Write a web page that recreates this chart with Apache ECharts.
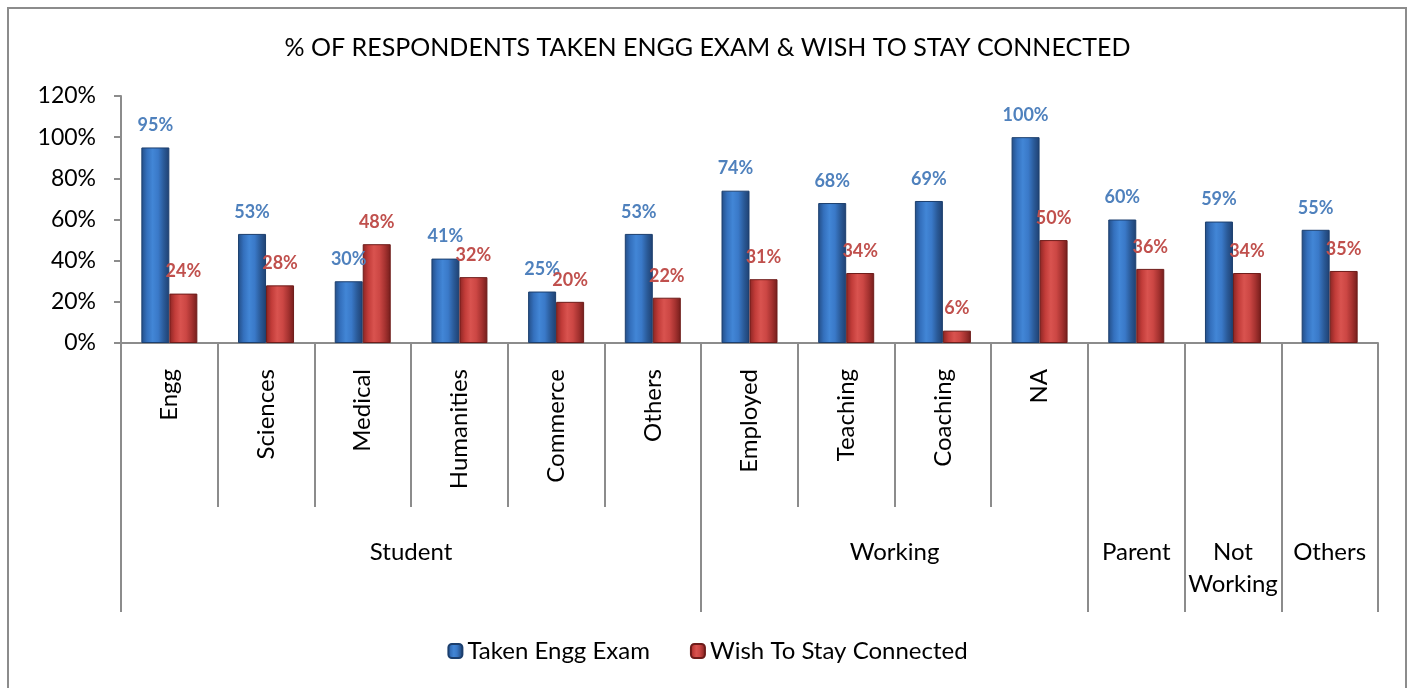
<!DOCTYPE html>
<html>
<head>
<meta charset="utf-8">
<script src="https://cdn.jsdelivr.net/npm/echarts@6/dist/echarts.min.js"></script>
<style>
html,body{margin:0;padding:0;background:#fff;}
#chart{width:1415px;height:688px;}
</style>
</head>
<body>
<div id="chart"></div>
<script>
const titleText = '% OF RESPONDENTS TAKEN ENGG EXAM & WISH TO STAY CONNECTED';
const categories = ['Engg','Sciences','Medical','Humanities','Commerce','Others','Employed','Teaching','Coaching','NA','','',''];
const groups = ['Student','Working','Parent','Not\nWorking','Others'];
const groupSpans = [6,4,1,1,1];
const seriesNames = ['Taken Engg Exam','Wish To Stay Connected'];
const takenExam = [95,53,30,41,25,53,74,68,69,100,60,59,55];
const stayConnected = [24,28,48,32,20,22,31,34,6,50,36,34,35];
const yTicks = [0,20,40,60,80,100,120];

const FONT = 'Lato, "Open Sans", sans-serif';

// derived group boundaries and centers
const bounds = [0];
groupSpans.forEach(s => bounds.push(bounds[bounds.length-1] + s));
const centers = groupSpans.map((s,i) => bounds[i] + s/2);
const centerLabel = {};
centers.forEach((c,i) => { centerLabel[c] = groups[i]; });

function grad(stops){
  return {type:'linear',x:0,y:0,x2:1,y2:0,colorStops:stops.map((c,i)=>({offset:i/(stops.length-1),color:c}))};
}
const blueGrad = grad(['#234d85','#3470bd','#4286d6','#3a79c8','#2a5a98','#1f4070']);
const redGrad = grad(['#8a2523','#c23c39','#d9534f','#cc4744','#a53230','#731d1b']);

const chart = echarts.init(document.getElementById('chart'));
chart.setOption({
  animation:false,
  textStyle:{fontFamily:FONT},
  graphic:[{type:'rect',shape:{x:8,y:8,width:1398,height:700},style:{fill:'none',stroke:'#8c8c8c',lineWidth:2},silent:true}],
  title:{text:titleText,left:'center',top:30,textStyle:{fontFamily:FONT,fontSize:25,fontWeight:'normal',color:'#000'}},
  legend:{bottom:20,left:'center',itemWidth:14,itemHeight:14,itemGap:40,
    textStyle:{fontFamily:FONT,fontSize:24,color:'#000'},data:seriesNames},
  grid:{left:121,right:37,top:96,bottom:345,containLabel:false},
  xAxis:[{
    type:'category',data:categories,position:'bottom',
    axisLine:{lineStyle:{color:'#8c8c8c',width:2}},
    axisTick:{show:true,interval:0,length:164,lineStyle:{color:'#8c8c8c',width:2}},
    axisLabel:{interval:0,rotate:90,margin:26,fontFamily:FONT,fontSize:24,color:'#000'}
  },{
    type:'value',min:0,max:bounds[bounds.length-1],position:'bottom',
    axisLine:{show:false},splitLine:{show:false},
    axisTick:{show:true,customValues:bounds,length:269,lineStyle:{color:'#8c8c8c',width:2}},
    axisLabel:{customValues:centers,margin:193,fontFamily:FONT,fontSize:24,color:'#000',lineHeight:32,
      verticalAlign:'top',formatter:v=>centerLabel[v]||''}
  }],
  yAxis:{
    type:'value',min:yTicks[0],max:yTicks[yTicks.length-1],interval:20,
    axisLine:{show:true,lineStyle:{color:'#8c8c8c',width:2}},
    axisTick:{show:true,length:7,lineStyle:{color:'#8c8c8c',width:2}},
    splitLine:{show:false},
    axisLabel:{formatter:'{value}%',margin:25,fontFamily:FONT,fontSize:23,color:'#000'}
  },
  series:[{
    name:seriesNames[0],type:'bar',xAxisIndex:0,data:takenExam,barWidth:28,barGap:'0%',
    itemStyle:{color:blueGrad,borderColor:'#1c3f6e',borderWidth:1},
    label:{show:true,position:'top',distance:13,formatter:'{c}%',fontFamily:FONT,fontSize:18,fontWeight:'bold',color:'#4f81bd'}
  },{
    name:seriesNames[1],type:'bar',xAxisIndex:0,data:stayConnected,barWidth:28,barGap:'0%',
    itemStyle:{color:redGrad,borderColor:'#6e1c1a',borderWidth:1},
    label:{show:true,position:'top',distance:13,formatter:'{c}%',fontFamily:FONT,fontSize:18,fontWeight:'bold',color:'#c0504d'}
  }]
});
</script>
</body>
</html>
